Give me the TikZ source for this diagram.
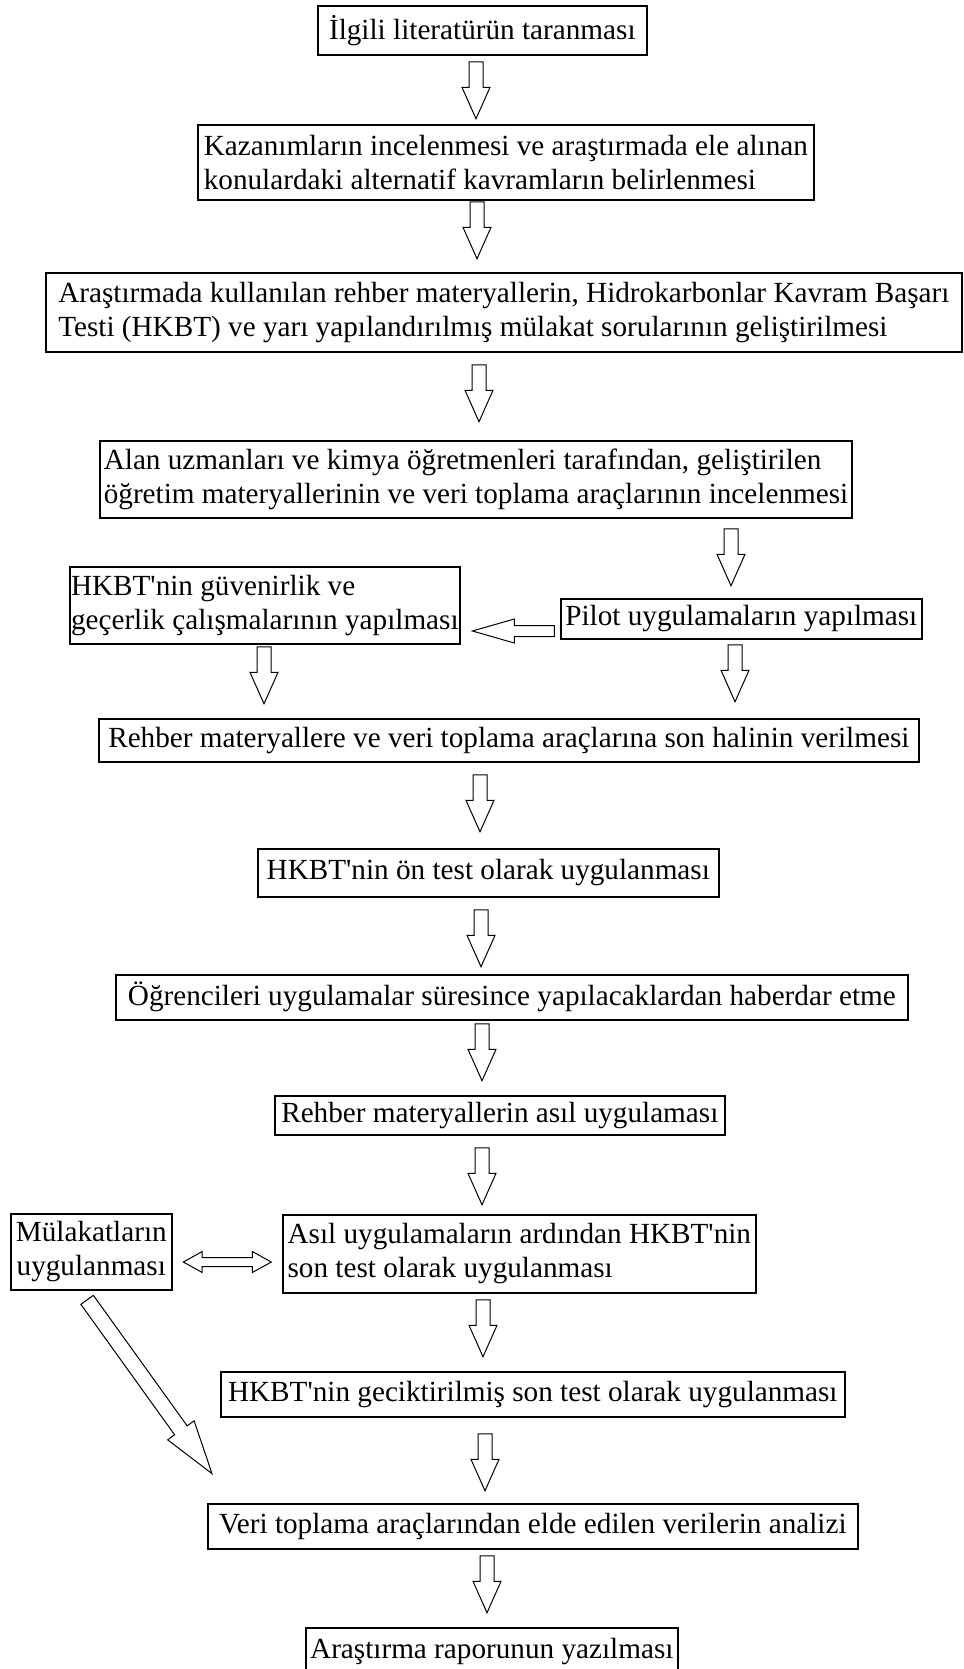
\documentclass[tikz,border=0pt]{standalone}
\usepackage{fontspec}
\newfontfamily\diagfont{Liberation Serif}
\usetikzlibrary{calc, positioning, shapes.arrows}

\tikzset{
  kutu/.style={draw, line width=0.8pt, align=left, anchor=north west,
    inner xsep=2pt, inner ysep=0pt, font=\diagfont\fontsize{14.6}{16.8}\selectfont},
  ok/.style={single arrow, draw, fill=white, line width=0.5pt, at end, anchor=tip, sloped, allow upside down,
    inner xsep=0pt, inner ysep=3.25pt, minimum height=28.5pt,
    single arrow head extend=3.5pt, single arrow tip angle=48},
  ciftok/.style={double arrow, draw, fill=white, line width=0.5pt, midway, sloped, allow upside down,
    inner xsep=0pt, inner ysep=2pt, minimum height=44pt,
    double arrow head extend=3pt, double arrow tip angle=58}
}

\begin{document}
\begin{tikzpicture}[x=0.5pt, y=-0.5pt]
\useasboundingbox[fill=white] (0,0) rectangle (963,1669);

\node[kutu, minimum width=164.5pt, minimum height=24.5pt] (k1) at (317,5) {İlgili literatürün taranması};
\node[kutu, minimum width=308pt, minimum height=37.5pt] (k2) at (197,124)
  {Kazanımların incelenmesi ve araştırmada ele alınan\\konulardaki alternatif kavramların belirlenmesi};
\node[kutu, minimum width=458pt, minimum height=39.5pt] (k3) at (45,272)
  {Araştırmada kullanılan rehber materyallerin, Hidrokarbonlar Kavram Başarı\\Testi (HKBT) ve yarı yapılandırılmış mülakat sorularının geliştirilmesi};
\node[kutu, minimum width=375.5pt, minimum height=38.5pt] (k4) at (99,440)
  {Alan uzmanları ve kimya öğretmenleri tarafından, geliştirilen\\öğretim materyallerinin ve veri toplama araçlarının incelenmesi};
\node[kutu, inner xsep=0.5pt, minimum width=195pt, minimum height=38.5pt] (k5) at (69,566)
  {HKBT'nin güvenirlik ve\\geçerlik çalışmalarının yapılması};
\node[kutu, minimum width=180.5pt, minimum height=20pt] (k6) at (560,598) {Pilot uygulamaların yapılması};
\node[kutu, minimum width=410pt, minimum height=21.5pt] (k7) at (98,718)
  {Rehber materyallere ve veri toplama araçlarına son halinin verilmesi};
\node[kutu, minimum width=230.5pt, minimum height=24pt] (k8) at (257,848) {HKBT'nin ön test olarak uygulanması};
\node[kutu, minimum width=396pt, minimum height=22.5pt] (k9) at (115,974)
  {Öğrencileri uygulamalar süresince yapılacaklardan haberdar etme};
\node[kutu, minimum width=225pt, minimum height=19.5pt] (k10) at (274,1095) {Rehber materyallerin asıl uygulaması};
\node[kutu, align=center, inner xsep=1pt, minimum width=80.5pt, minimum height=38pt] (k11) at (10,1213)
  {Mülakatların\\uygulanması};
\node[kutu, minimum width=236.5pt, minimum height=39pt] (k12) at (282,1214)
  {Asıl uygulamaların ardından HKBT'nin\\son test olarak uygulanması};
\node[kutu, minimum width=312pt, minimum height=22.5pt] (k13) at (220,1371)
  {HKBT'nin geciktirilmiş son test olarak uygulanması};
\node[kutu, minimum width=325pt, minimum height=22.5pt] (k14) at (207,1503)
  {Veri toplama araçlarından elde edilen verilerin analizi};
\node[kutu, minimum width=186pt, minimum height=24pt] (k15) at (305,1627) {Araştırma raporunun yazılması};

\path (k1.south -| 476,0) -- ($(k2.north -| 476,0)+(0,-4)$) node[ok] (o1) {};
\path (k2.south -| 477,0) -- ($(k3.north -| 477,0)+(0,-12)$) node[ok] (o2) {};
\path (k3.south -| 479,0) -- ($(k4.north -| 479,0)+(0,-17)$) node[ok] (o3) {};
\path (k4.south -| 731,0) -- ($(k6.north -| 731,0)+(0,-11)$) node[ok] (o4) {};
\path (k6.west |- 0,631) -- ($(k5.east |- 0,631)+(10,0)$) node[ok, minimum height=41pt, inner ysep=2.5pt,
  single arrow head extend=3.25pt, single arrow tip angle=32] (o5) {};
\path (k5.south -| 264,0) -- ($(k7.north -| 264,0)+(0,-13)$) node[ok] (o6) {};
\path (k6.south -| 735,0) -- ($(k7.north -| 735,0)+(0,-15)$) node[ok] (o7) {};
\path (k7.south -| 480,0) -- ($(k8.north -| 480,0)+(0,-15)$) node[ok] (o8) {};
\path (k8.south -| 481,0) -- ($(k9.north -| 481,0)+(0,-6)$) node[ok] (o9) {};
\path (k9.south -| 482,0) -- ($(k10.north -| 482,0)+(0,-13)$) node[ok] (o10) {};
\path (k10.south -| 482,0) -- ($(k12.north -| 482,0)+(0,-8)$) node[ok] (o11) {};
\path (k11.east |- 0,1262) -- (k12.west |- 0,1262) node[ciftok] (o12) {};
\path (k12.south -| 483,0) -- ($(k13.north -| 483,0)+(0,-13)$) node[ok] (o13) {};
\path (k13.south -| 485,0) -- ($(k14.north -| 485,0)+(0,-11)$) node[ok] (o14) {};
\path (k14.south -| 487,0) -- ($(k15.north -| 487,0)+(0,-13)$) node[ok] (o15) {};
\path (k11.south -| 80.5,0) -- ($(k14.north west)+(6,-28)$) node[ok, minimum height=107pt, inner ysep=3.6pt,
  single arrow head extend=4.3pt, single arrow tip angle=34] (o16) {};
\end{tikzpicture}
\end{document}
